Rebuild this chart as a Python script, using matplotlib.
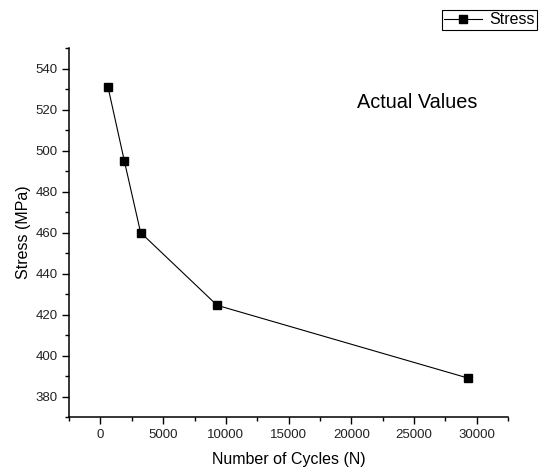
import numpy as np
import matplotlib
matplotlib.use('Agg')
import matplotlib.pyplot as plt
from matplotlib.ticker import MultipleLocator

# fatigue test results
cycles = [600, 1900, 3200, 9300, 29300]
stress = [531, 495, 460, 424.5, 389]

plt.rcParams['font.family'] = ['Liberation Sans', 'DejaVu Sans']

fig = plt.figure(figsize=(5.4, 4.72), dpi=100)
ax = fig.add_axes([0.128, 0.1165, 0.813, 0.7815])

line, = ax.plot(cycles, stress, '-s', color='k', lw=0.8, ms=5.5, label='Stress')

ax.set_xlim(-2500, 32500)
ax.set_ylim(370, 550)
ax.xaxis.set_major_locator(MultipleLocator(5000))
ax.xaxis.set_minor_locator(MultipleLocator(2500))
ax.yaxis.set_major_locator(MultipleLocator(20))
ax.yaxis.set_minor_locator(MultipleLocator(10))
ax.tick_params(which='major', length=5, width=1, labelsize=9.5, color='k', labelcolor='#222222')
ax.tick_params(which='minor', length=3, width=1, color='k')

for s in ['top', 'right']:
    ax.spines[s].set_visible(False)
for s in ['left', 'bottom']:
    ax.spines[s].set_linewidth(1.1)

ax.set_xlabel('Number of Cycles (N)', fontsize=11.5, labelpad=8)
ax.set_ylabel('Stress (MPa)', fontsize=11.5, labelpad=3)

ax.text(0.656, 0.837, 'Actual Values', transform=ax.transAxes, fontsize=14.3,
        va='baseline')

# legend box runs off the right edge of the figure
leg = fig.legend(handles=[line], loc='upper left', bbox_to_anchor=(0.818, 0.979),
                 fontsize=11.5, frameon=True, fancybox=False, edgecolor='k',
                 handlelength=2.4, handletextpad=0.4, borderpad=0.15,
                 borderaxespad=0, framealpha=1)
leg.get_frame().set_linewidth(0.8)

fig.savefig('out.png', dpi=100)
